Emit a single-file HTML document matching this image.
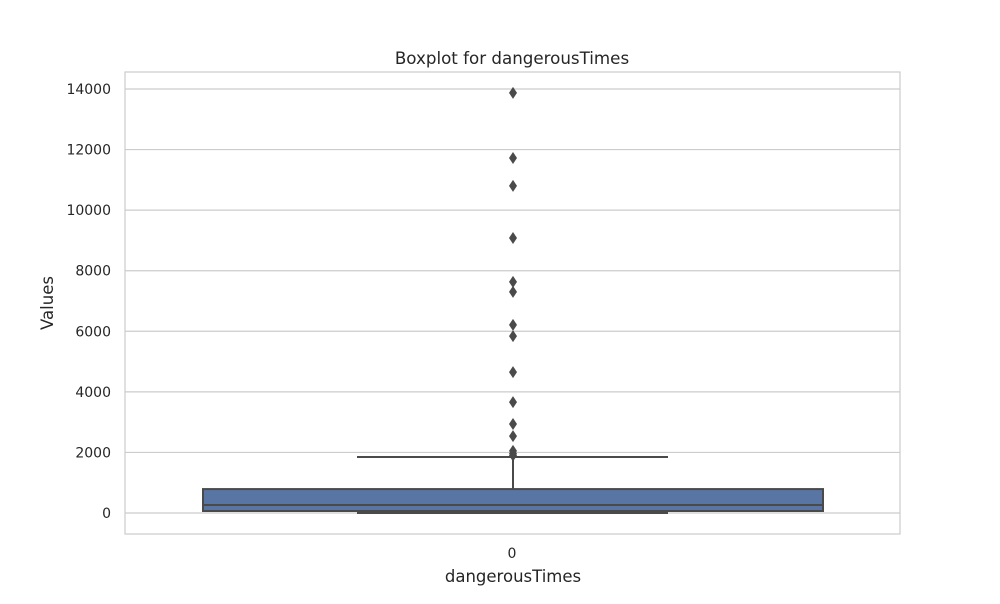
<!DOCTYPE html>
<html><head><meta charset="utf-8"><style>
body{margin:0;background:#fff;font-family:"DejaVu Sans","Liberation Sans",sans-serif;}
svg text{fill:#262626;font-family:"DejaVu Sans","Liberation Sans",sans-serif;}
</style></head><body>
<svg id="chart" width="1000" height="600" xmlns="http://www.w3.org/2000/svg">
<rect x="0" y="0" width="1000" height="600" fill="#fff"/>
<text x="512" y="64" font-size="16.7" text-anchor="middle">Boxplot for dangerousTimes</text>
<g id="grid"></g>
<g id="marks"></g>
<rect x="125" y="72" width="775" height="462" fill="none" stroke="#ccc" stroke-width="1.2"/>
<text x="53" y="303" font-size="16.5" text-anchor="middle" transform="rotate(-90 53 303)">Values</text>
<text x="513" y="582" font-size="16.5" text-anchor="middle">dangerousTimes</text>
<text x="512" y="558" font-size="14" text-anchor="middle">0</text>
</svg>
<script>
const yTicks=[0,2000,4000,6000,8000,10000,12000,14000];
const stats=[66,264,790];           // q1, median, q3
const whiskers=[0,1850];            // low, high
const outliers=[13870,11720,10800,9080,7630,7300,6210,5840,4650,3660,2940,2540,2050,1960,1900];
const NS="http://www.w3.org/2000/svg";
function y(v){return 513-v*(513-89)/14000;}
const cx=513;
function mk(tag,attrs,parent){const e=document.createElementNS(NS,tag);for(const k in attrs)e.setAttribute(k,attrs[k]);parent.appendChild(e);return e;}
const grid=document.getElementById('grid'),marks=document.getElementById('marks'),svg=document.getElementById('chart');
yTicks.forEach(t=>{
 const l=mk('line',{x1:125,x2:900,y1:y(t),y2:y(t),stroke:'#ccc','stroke-width':1.2},grid);
 
 
 const tx=mk('text',{x:111,y:y(t)+5,'font-size':14,'text-anchor':'end'},svg);
 tx.textContent=t;
 
 
});
const wl=mk('line',{x1:cx,x2:cx,y1:y(whiskers[1]),y2:y(stats[2]),stroke:'#4a4a4a','stroke-width':2},marks);


const cap=mk('line',{x1:357,x2:668,y1:y(whiskers[1]),y2:y(whiskers[1]),stroke:'#4a4a4a','stroke-width':2},marks);


const lcap=mk('line',{x1:357,x2:668,y1:y(whiskers[0]),y2:y(whiskers[0]),stroke:'#4a4a4a','stroke-width':2},marks);


const box=mk('rect',{x:203,width:620,y:y(stats[2]),height:y(stats[0])-y(stats[2]),fill:'#5875a4',stroke:'#4a4a4a','stroke-width':2},marks);


const med=mk('line',{x1:203,x2:823,y1:y(stats[1]),y2:y(stats[1]),stroke:'#4a4a4a','stroke-width':2},marks);


outliers.forEach(v=>{
 const yy=y(v);
 const p=mk('polygon',{points:`${cx},${yy-6} ${cx+4},${yy} ${cx},${yy+6} ${cx-4},${yy}`,fill:'#4a4a4a'},marks);
 
 
});
</script>
</body></html>
